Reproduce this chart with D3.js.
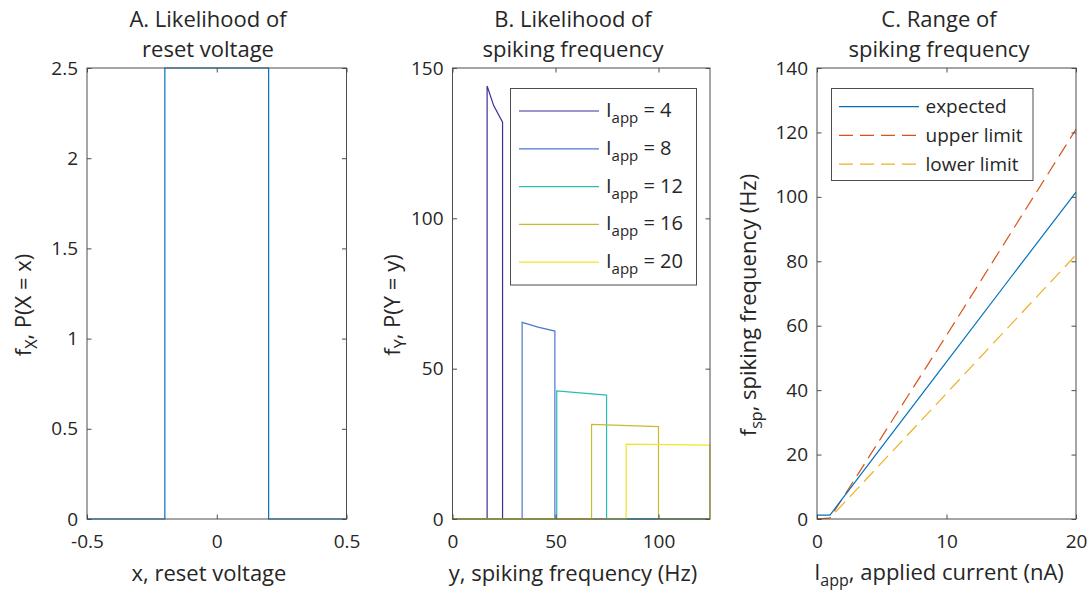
<!DOCTYPE html>
<html>
<head>
<meta charset="utf-8">
<script src="https://cdn.jsdelivr.net/npm/d3@7"></script>
<style>
body { margin: 0; background: #fff; }
svg text { font-family: "Open Sans", sans-serif; fill: #262626; }
</style>
</head>
<body>
<svg id="chart" width="1092" height="599"></svg>
<script>
// ---- data ----
// A: uniform density of reset voltage
const resetX = [-0.5, -0.2, -0.2, 0.2, 0.2, 0.5];
const resetP = [0, 0, 2.5, 2.5, 0, 0];
const ticksAX = [-0.5, 0, 0.5];
const ticksAY = [0, 0.5, 1, 1.5, 2, 2.5];

// B: density of spiking frequency for each applied current
const iappLevels = [4, 8, 12, 16, 20];
const freq4 = [0, 16.8, 16.8, 20, 24.3, 24.3, 125];
const dens4 = [0, 0, 144, 137.5, 132, 0, 0];
const freq8 = [0, 33.8, 33.8, 41.5, 49.7, 49.7, 125];
const dens8 = [0, 0, 65.4, 63.8, 62.5, 0, 0];
const freq12 = [0, 50.6, 50.6, 74.8, 74.8, 125];
const dens12 = [0, 0, 42.6, 41.2, 0, 0];
const freq16 = [0, 67.5, 67.5, 100, 100, 125];
const dens16 = [0, 0, 31.5, 30.7, 0, 0];
const freq20 = [0, 84.3, 84.3, 124.9, 124.9, 125];
const dens20 = [0, 0, 24.9, 24.6, 0, 0];
const ticksBX = [0, 50, 100];
const ticksBY = [0, 50, 100, 150];

// C: spiking frequency vs applied current
const currentI = [0, 1, 5, 10, 15, 20];
const expectedF = [1.2, 1.2, 22.4, 48.8, 75.2, 101.5];
const upperF = [0, 0.3, 25.5, 57, 89, 121];
const lowerF = [0, 0.3, 17.5, 39, 60.5, 82];
const ticksCX = [0, 10, 20];
const ticksCY = [0, 20, 40, 60, 80, 100, 120, 140];

const iappColors = ['#3b2f9c', '#4c78cf', '#2bbbb2', '#c6bc2c', '#f1e529'];
const seriesB = [
	{ x: freq4, y: dens4 },
	{ x: freq8, y: dens8 },
	{ x: freq12, y: dens12 },
	{ x: freq16, y: dens16 },
	{ x: freq20, y: dens20 }
];

const svg = d3.select('#chart');
const TOP = 68, BOTTOM = 519, TICK = 4.5;
const axisColor = '#4d4d4d';
// matlab style tick labels, plain hyphen for negatives
const fmt = d => d3.format('~g')(d).replace('\u2212', '-');

function drawAxes(x, y, xTicks, yTicks) {
	const g = svg.append('g');
	const [x0, x1] = x.range(), [y0, y1] = y.range();

	const styleAxis = sel => {
		sel.selectAll('path.domain').remove();
		sel.selectAll('line').attr('stroke', axisColor);
		sel.selectAll('text').attr('font-size', 19).attr('fill', '#333');
	};

	g.append('g').attr('transform', `translate(0,${y0})`)
		.call(d3.axisBottom(x).tickValues(xTicks).tickFormat(fmt).tickSizeInner(-TICK).tickSizeOuter(0).tickPadding(16))
		.call(styleAxis);
	g.append('g').attr('transform', `translate(0,${y1})`)
		.call(d3.axisTop(x).tickValues(xTicks).tickFormat('').tickSizeInner(-TICK).tickSizeOuter(0))
		.call(styleAxis);
	g.append('g').attr('transform', `translate(${x0},0)`)
		.call(d3.axisLeft(y).tickValues(yTicks).tickFormat(fmt).tickSizeInner(-TICK).tickSizeOuter(0).tickPadding(9))
		.call(styleAxis);
	g.append('g').attr('transform', `translate(${x1},0)`)
		.call(d3.axisRight(y).tickValues(yTicks).tickFormat('').tickSizeInner(-TICK).tickSizeOuter(0))
		.call(styleAxis);

	g.append('rect')
		.attr('x', x0).attr('y', y1)
		.attr('width', x1 - x0).attr('height', y0 - y1)
		.attr('fill', 'none').attr('stroke', axisColor).attr('stroke-width', 1);
	return g;
}

function title(cx, line1, line2) {
	svg.append('text').attr('x', cx).attr('y', 27).attr('text-anchor', 'middle').attr('font-size', 22).text(line1);
	svg.append('text').attr('x', cx).attr('y', 57).attr('text-anchor', 'middle').attr('font-size', 22).text(line2);
}

// text with a subscript: parts = [main, sub, rest]
function subText(parent, parts, size, subSize) {
	parent.append('tspan').text(parts[0]);
	parent.append('tspan').attr('font-size', subSize).attr('dy', 6).text(parts[1]);
	parent.append('tspan').attr('dy', -6).text(parts[2]);
	parent.attr('font-size', size);
	return parent;
}

function yLabel(x, y, parts) {
	const t = svg.append('text')
		.attr('transform', `translate(${x},${y}) rotate(-90)`)
		.attr('text-anchor', 'middle');
	subText(t, parts, 22, 16);
}

function xLabel(x, y, parts) {
	const t = svg.append('text').attr('x', x).attr('y', y).attr('text-anchor', 'middle');
	if (parts.length === 1) t.attr('font-size', 22).text(parts[0]);
	else subText(t, parts, 22, 16);
}

// ---- Panel A ----
const xA = d3.scaleLinear().domain([-0.5, 0.5]).range([87, 346.5]);
const yA = d3.scaleLinear().domain([0, 2.5]).range([BOTTOM, TOP]);
const lineA = d3.line().x(d => xA(d[0])).y(d => yA(d[1]));
svg.append('path')
	.datum(d3.zip(resetX, resetP))
	.attr('d', lineA)
	.attr('fill', 'none').attr('stroke', '#0072BD').attr('stroke-width', 1.2);
drawAxes(xA, yA, ticksAX, ticksAY);
title(208, 'A. Likelihood of', 'reset voltage');
xLabel(209, 581, ['x, reset voltage']);
yLabel(31, 305, ['f', 'X', ', P(X = x)']);

// ---- Panel B ----
const xB = d3.scaleLinear().domain([0, 125]).range([452.5, 710]);
const yB = d3.scaleLinear().domain([0, 150]).range([BOTTOM, TOP]);
const lineB = d3.line().x(d => xB(d[0])).y(d => yB(d[1]));
seriesB.forEach((s, i) => {
	svg.append('path')
		.datum(d3.zip(s.x, s.y))
		.attr('d', lineB)
		.attr('fill', 'none').attr('stroke', iappColors[i]).attr('stroke-width', 1.2);
});
drawAxes(xB, yB, ticksBX, ticksBY);
title(573, 'B. Likelihood of', 'spiking frequency');
xLabel(573, 581, ['y, spiking frequency (Hz)']);
yLabel(400, 305, ['f', 'Y', ', P(Y = y)']);

// legend B
const legB = svg.append('g');
legB.append('rect').attr('x', 510.5).attr('y', 88.5).attr('width', 186).attr('height', 196.5)
	.attr('fill', '#fff').attr('stroke', axisColor);
iappLevels.forEach((lv, i) => {
	const ly = 111 + i * 37.8;
	legB.append('line').attr('x1', 519).attr('x2', 599).attr('y1', ly).attr('y2', ly)
		.attr('stroke', iappColors[i]).attr('stroke-width', 1.2);
	const t = legB.append('text').attr('x', 606).attr('y', ly + 6);
	subText(t, ['I', 'app', ' = ' + lv], 20, 15);
});

// ---- Panel C ----
const xC = d3.scaleLinear().domain([0, 20]).range([817, 1076]);
const yC = d3.scaleLinear().domain([0, 140]).range([BOTTOM, TOP]);
const lineC = d3.line().x(d => xC(d[0])).y(d => yC(d[1]));
const seriesC = [
	{ name: 'expected', y: expectedF, color: '#0072BD', dash: null },
	{ name: 'upper limit', y: upperF, color: '#D95319', dash: '14,7' },
	{ name: 'lower limit', y: lowerF, color: '#EDB120', dash: '14,7' }
];
seriesC.slice().reverse().forEach(s => {
	svg.append('path')
		.datum(d3.zip(currentI, s.y))
		.attr('d', lineC)
		.attr('fill', 'none').attr('stroke', s.color).attr('stroke-width', 1.2)
		.attr('stroke-dasharray', s.dash);
});
drawAxes(xC, yC, ticksCX, ticksCY);
title(939, 'C. Range of', 'spiking frequency');
xLabel(939, 580, ['I', 'app', ', applied current (nA)']);
yLabel(756, 305, ['f', 'sp', ', spiking frequency (Hz)']);

// legend C
const legC = svg.append('g');
legC.append('rect').attr('x', 831.5).attr('y', 88.5).attr('width', 201.5).attr('height', 92)
	.attr('fill', '#fff').attr('stroke', axisColor);
seriesC.forEach((s, i) => {
	const ly = 106.7 + i * 28.7;
	legC.append('line').attr('x1', 839).attr('x2', 919).attr('y1', ly).attr('y2', ly)
		.attr('stroke', s.color).attr('stroke-width', 1.2).attr('stroke-dasharray', s.dash);
	legC.append('text').attr('x', 925.5).attr('y', ly + 6.5).attr('font-size', 19).text(s.name);
});
</script>
</body>
</html>
